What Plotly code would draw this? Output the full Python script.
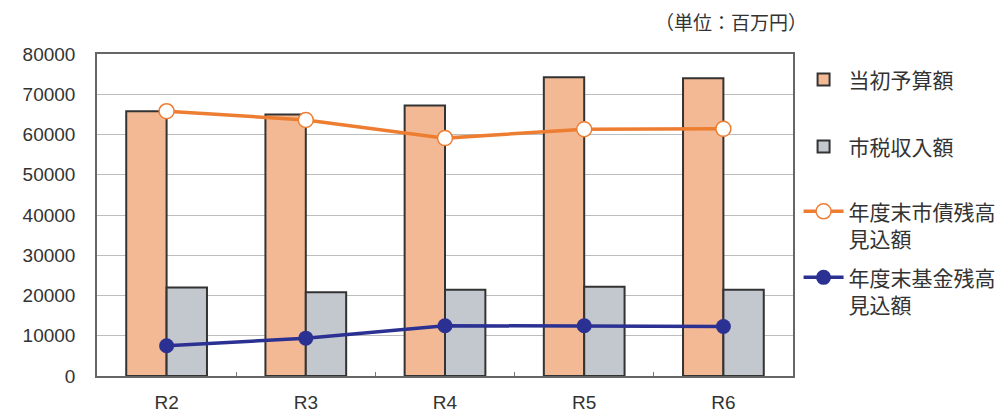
import plotly.graph_objects as go

categories = ["R2", "R3", "R4", "R5", "R6"]
budget = [65800, 65000, 67200, 74200, 74000]          # 当初予算額
tax = [22000, 20800, 21400, 22200, 21400]             # 市税収入額
debt = [65800, 63600, 59100, 61300, 61400]            # 年度末市債残高見込額
fund = [7500, 9400, 12500, 12500, 12300]              # 年度末基金残高見込額
y_ticks = [0, 10000, 20000, 30000, 40000, 50000, 60000, 70000, 80000]

names = ["当初予算額", "市税収入額", "年度末市債残高<br>見込額", "年度末基金残高<br>見込額"]

FONT_JP = "Noto Sans CJK JP"
FONT_NUM = "Liberation Sans, Arial, sans-serif"
TXT = "#333333"

fig = go.Figure()
fig.add_trace(go.Bar(x=categories, y=budget, name=names[0],
                     marker=dict(color="#F2B994", line=dict(color="#333333", width=2)),
                     legend="legend", showlegend=True))
fig.add_trace(go.Bar(x=categories, y=tax, name=names[1],
                     marker=dict(color="#C3C7CE", line=dict(color="#333333", width=2)),
                     legend="legend2", showlegend=True))
fig.add_trace(go.Scatter(x=categories, y=debt, name=names[2], mode="lines+markers",
                         line=dict(color="#ED7D31", width=3.5),
                         marker=dict(symbol="circle", size=15, color="white",
                                     line=dict(color="#ED7D31", width=1.5)),
                         legend="legend3", showlegend=True))
fig.add_trace(go.Scatter(x=categories, y=fund, name=names[3], mode="lines+markers",
                         line=dict(color="#2B3192", width=3.5),
                         marker=dict(symbol="circle", size=15, color="#2B3192"),
                         legend="legend4", showlegend=True))

def leg(y):
    return dict(x=1.008, xanchor="left", y=y, yanchor="top",
                font=dict(family=FONT_JP, size=21, color=TXT),
                bgcolor="rgba(0,0,0,0)", valign="top", itemwidth=40)

fig.update_layout(
    width=997, height=409,
    margin=dict(l=89, r=212, t=46, b=41, autoexpand=False),
    showlegend=True,
    paper_bgcolor="white", plot_bgcolor="white",
    barmode="group", bargap=0.42, bargroupgap=0,
    legend=leg(0.983), legend2=leg(0.775),
    legend3=leg(0.574), legend4=leg(0.369),
    font=dict(family=FONT_NUM, color=TXT),
    annotations=[dict(text="（単位：百万円）", xref="paper", yref="paper",
                      x=1.023, y=1.0, yshift=33, xanchor="right", yanchor="middle",
                      showarrow=False, font=dict(family=FONT_JP, size=19, color=TXT))],
)
fig.update_xaxes(type="category", tickson="boundaries", ticks="inside", ticklen=4,
                 tickcolor="#777777", showline=True, linecolor="#666666", linewidth=1.5,
                 mirror=True, showgrid=False,
                 tickfont=dict(family=FONT_NUM, size=19, color=TXT), ticklabelstandoff=8)
fig.update_yaxes(range=[0, 80000], tickvals=y_ticks, tickformat="d", showgrid=True,
                 gridcolor="#BDBDBD", gridwidth=1.2, showline=True, linecolor="#666666",
                 linewidth=1.5, mirror=True, zeroline=False, ticks="",
                 tickfont=dict(family=FONT_NUM, size=19, color=TXT), ticklabelstandoff=16)

fig.write_html("out.html")
